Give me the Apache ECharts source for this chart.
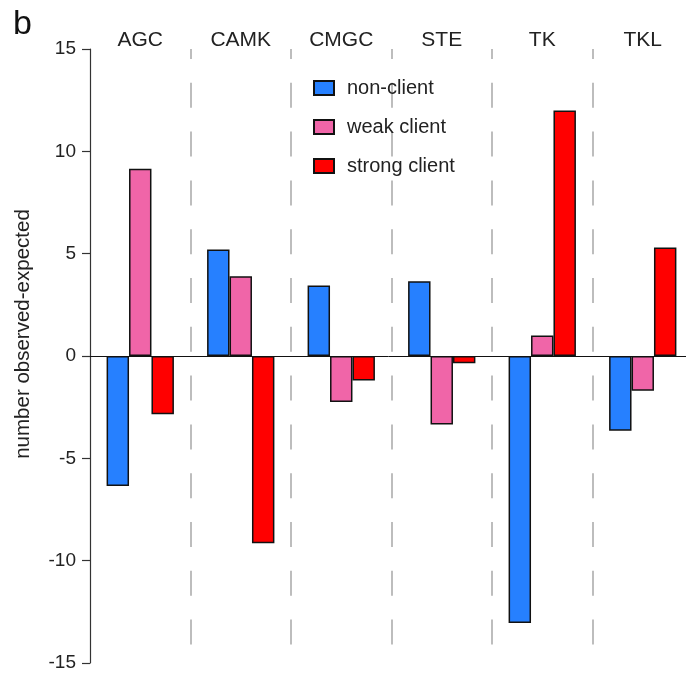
<!DOCTYPE html>
<html><head><meta charset="utf-8">
<script src="https://cdn.jsdelivr.net/npm/echarts@6/dist/echarts.min.js"></script>
<style>html,body{margin:0;padding:0;background:#fff}#c{width:686px;height:679px}</style>
</head><body><div id="c"></div>
<script>
const categories = ['AGC','CAMK','CMGC','STE','TK','TKL'];
const nonClient = [-6.35, 5.2, 3.45, 3.65, -13.05, -3.65];
const weakClient = [9.15, 3.9, -2.25, -3.35, 1.0, -1.7];
const strongClient = [-2.85, -9.15, -1.2, -0.35, 12.0, 5.3];
const yTicks = [-15, -10, -5, 0, 5, 10, 15];

const chart = echarts.init(document.getElementById('c'), null, {renderer:'canvas'});
const font = 'Liberation Sans, Arial, sans-serif';
function bar(name, data, color) {
  return {name, type:'bar', data, barGap:'0%', barCategoryGap:'33%',
    itemStyle:{color, borderColor:'#111', borderWidth:1.5}};
}
const series = [
  bar('non-client', nonClient, '#2680ff'),
  bar('weak client', weakClient, '#f065a8'),
  bar('strong client', strongClient, '#ff0000')
];
series[0].markLine = {silent:true, symbol:'none', label:{show:false},
  lineStyle:{color:'#111', width:1, type:'solid'}, data:[{yAxis:0}]};
chart.setOption({
  animation:false,
  title:{text:'b', left:8, top:3, textStyle:{fontSize:34, fontWeight:'normal', color:'#111', fontFamily:font}},
  grid:{left:90, width:603, top:49, bottom:16, containLabel:false, outerBoundsMode:'none'},
  legend:{orient:'vertical', left:313, top:78, padding:0, itemWidth:20, itemHeight:14, itemGap:19,
    icon:'rect', textStyle:{fontSize:20, color:'#222', fontFamily:font, padding:[0,0,0,8]},
    data:['non-client','weak client','strong client']},
  xAxis:{type:'category', data:categories, position:'top',
    axisLine:{show:false}, axisTick:{show:false},
    axisLabel:{fontSize:21, color:'#222', fontFamily:font, margin:-2},
    splitLine:{show:true, interval:function(i){return i>0;},
      lineStyle:{color:'#bdbdbd', width:2, type:[25,23.8], dashOffset:15}}},
  yAxis:{type:'value', min:yTicks[0], max:yTicks[yTicks.length-1], interval:5,
    name:'number observed-expected', nameLocation:'middle', nameGap:56,
    nameTextStyle:{fontSize:20.5, color:'#222', fontFamily:font, padding:[0,0,0,44]},
    axisLine:{show:true, onZero:false, lineStyle:{color:'#333', width:1.2}},
    axisTick:{show:true, length:8, lineStyle:{color:'#333', width:1.2}},
    axisLabel:{fontSize:19, color:'#222', fontFamily:font, margin:14},
    splitLine:{show:false}},
  series
});
</script></body></html>
